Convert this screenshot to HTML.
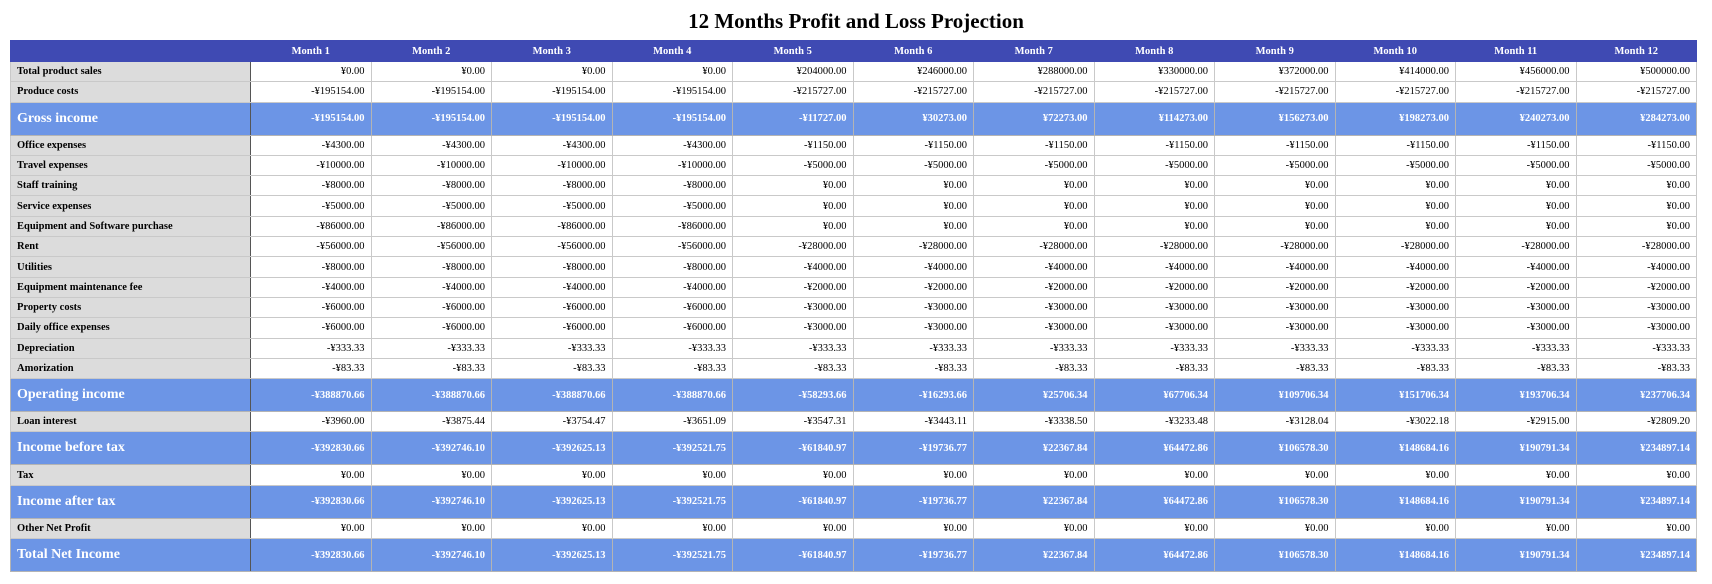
<!DOCTYPE html>
<html><head><meta charset="utf-8">
<style>
html,body{margin:0;padding:0;background:#fff;width:1712px;height:584px;overflow:hidden}
body{font-family:"Liberation Serif",serif;}
#title{position:absolute;left:0;top:7px;width:1712px;text-align:center;font-weight:bold;font-size:21px;line-height:28px;color:#000}
table{position:absolute;left:10px;top:40px;width:1687px;border-collapse:collapse;table-layout:fixed;font-size:10.5px}
td,th{border:1px solid #c9c9c9;padding:0 6px;white-space:nowrap;overflow:hidden}
th{background:#3f4ab3;color:#fff;font-weight:bold;height:20px;text-align:center;border-color:#3f4ab3}
tr.n td{height:19.3px;text-align:right;color:#000}
tr.n td.l{background:#dcdcdc;text-align:left;font-weight:bold;border-right:1px solid #555}
tr.b td{height:32px;background:#6c95e6;color:#fff;font-weight:bold;text-align:right;border-color:#b4b4b4}
tr.b td.l{text-align:left;font-size:14px;border-right:1px solid #555}
</style></head><body>
<div id="title">12 Months Profit and Loss Projection</div>
<table id="t"><colgroup><col style="width:240px"></colgroup></table>
<script>
const months = ["Month 1","Month 2","Month 3","Month 4","Month 5","Month 6","Month 7","Month 8","Month 9","Month 10","Month 11","Month 12"];
const rowLabels = ["Total product sales","Produce costs","Gross income","Office expenses","Travel expenses","Staff training","Service expenses","Equipment and Software purchase","Rent","Utilities","Equipment maintenance fee","Property costs","Daily office expenses","Depreciation","Amorization","Operating income","Loan interest","Income before tax","Tax","Income after tax","Other Net Profit","Total Net Income"];
const bigRows = [2,15,17,19,21];
const sales = [0,0,0,0,204000,246000,288000,330000,372000,414000,456000,500000];
const produce = [-195154,-195154,-195154,-195154,-215727,-215727,-215727,-215727,-215727,-215727,-215727,-215727];
const gross = [-195154,-195154,-195154,-195154,-11727,30273,72273,114273,156273,198273,240273,284273];
const office = [-4300,-4300,-4300,-4300,-1150,-1150,-1150,-1150,-1150,-1150,-1150,-1150];
const travel = [-10000,-10000,-10000,-10000,-5000,-5000,-5000,-5000,-5000,-5000,-5000,-5000];
const staff = [-8000,-8000,-8000,-8000,0,0,0,0,0,0,0,0];
const service = [-5000,-5000,-5000,-5000,0,0,0,0,0,0,0,0];
const equip = [-86000,-86000,-86000,-86000,0,0,0,0,0,0,0,0];
const rent = [-56000,-56000,-56000,-56000,-28000,-28000,-28000,-28000,-28000,-28000,-28000,-28000];
const utilities = [-8000,-8000,-8000,-8000,-4000,-4000,-4000,-4000,-4000,-4000,-4000,-4000];
const maint = [-4000,-4000,-4000,-4000,-2000,-2000,-2000,-2000,-2000,-2000,-2000,-2000];
const property = [-6000,-6000,-6000,-6000,-3000,-3000,-3000,-3000,-3000,-3000,-3000,-3000];
const daily = [-6000,-6000,-6000,-6000,-3000,-3000,-3000,-3000,-3000,-3000,-3000,-3000];
const depreciation = [-333.33,-333.33,-333.33,-333.33,-333.33,-333.33,-333.33,-333.33,-333.33,-333.33,-333.33,-333.33];
const amortization = [-83.33,-83.33,-83.33,-83.33,-83.33,-83.33,-83.33,-83.33,-83.33,-83.33,-83.33,-83.33];
const operating = [-388870.66,-388870.66,-388870.66,-388870.66,-58293.66,-16293.66,25706.34,67706.34,109706.34,151706.34,193706.34,237706.34];
const loan = [-3960.00,-3875.44,-3754.47,-3651.09,-3547.31,-3443.11,-3338.50,-3233.48,-3128.04,-3022.18,-2915.00,-2809.20];
const beforeTax = [-392830.66,-392746.10,-392625.13,-392521.75,-61840.97,-19736.77,22367.84,64472.86,106578.30,148684.16,190791.34,234897.14];
const tax = [0,0,0,0,0,0,0,0,0,0,0,0];
const afterTax = [-392830.66,-392746.10,-392625.13,-392521.75,-61840.97,-19736.77,22367.84,64472.86,106578.30,148684.16,190791.34,234897.14];
const otherNet = [0,0,0,0,0,0,0,0,0,0,0,0];
const totalNet = [-392830.66,-392746.10,-392625.13,-392521.75,-61840.97,-19736.77,22367.84,64472.86,106578.30,148684.16,190791.34,234897.14];
const series = [sales,produce,gross,office,travel,staff,service,equip,rent,utilities,maint,property,daily,depreciation,amortization,operating,loan,beforeTax,tax,afterTax,otherNet,totalNet];

function fmt(v){return (v<0?"-":"")+"\u00a5"+Math.abs(v).toFixed(2);}
function slug(s){return s.toLowerCase().replace(/[^a-z0-9]+/g,'-');}
const t=document.getElementById('t');
const cg=t.querySelector('colgroup');
for(let i=0;i<12;i++){const c=document.createElement('col');cg.appendChild(c);}
const hr=document.createElement('tr');


const h0=document.createElement('th');


hr.appendChild(h0);
months.forEach(m=>{const th=document.createElement('th');th.textContent=m;


hr.appendChild(th);});
t.appendChild(hr);
rowLabels.forEach((lab,r)=>{
 const tr=document.createElement('tr');
 tr.className=bigRows.includes(r)?'b':'n';
 
 
 const l=document.createElement('td');l.className='l';l.textContent=lab;
 
 
 tr.appendChild(l);
 series[r].forEach((v,i)=>{const td=document.createElement('td');td.textContent=fmt(v);
  
  
  tr.appendChild(td);});
 t.appendChild(tr);
});
</script>
</body></html>
